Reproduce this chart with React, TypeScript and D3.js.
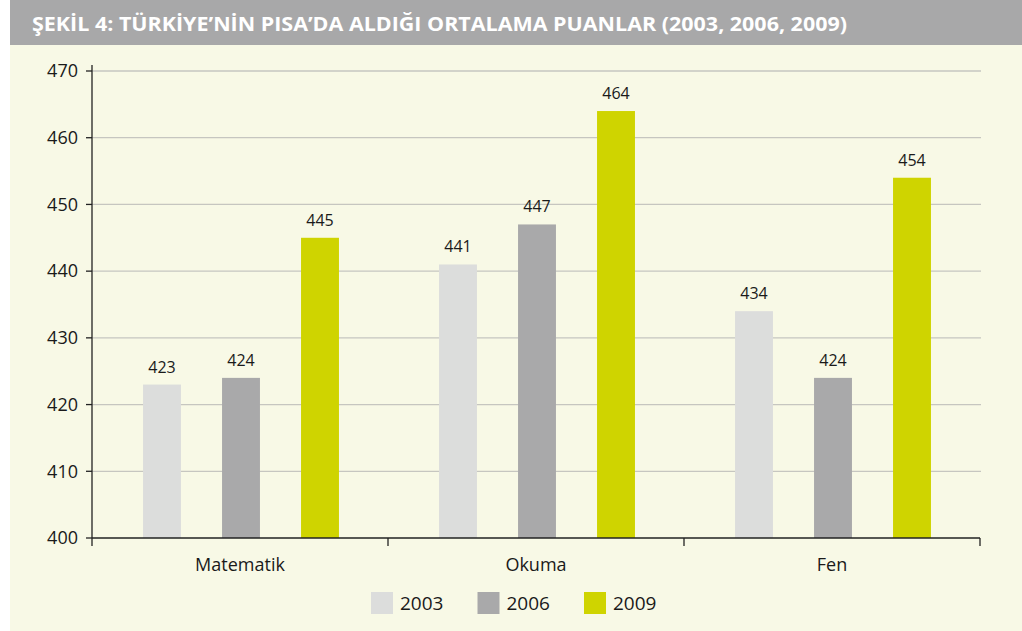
import React from "react";
import * as d3 from "d3";

const WIDTH = 1022;
const HEIGHT = 631;
const MARGIN = { top: 71, right: 42, bottom: 93, left: 92 };

const TITLE = "ŞEKİL 4: TÜRKİYE’NİN PISA’DA ALDIĞI ORTALAMA PUANLAR (2003, 2006, 2009)";
const categories = ["Matematik", "Okuma", "Fen"];
const years = ["2003", "2006", "2009"];
const values2003 = [423, 441, 434];
const values2006 = [424, 447, 424];
const values2009 = [445, 464, 454];
const yTicks = [400, 410, 420, 430, 440, 450, 460, 470];
const COLORS = ["#dcdddc", "#a9a9aa", "#cfd400"];

const FONT = "'Open Sans', 'DejaVu Sans', sans-serif";

export default function App() {
  const boundsWidth = WIDTH - MARGIN.left - MARGIN.right;
  const boundsHeight = HEIGHT - MARGIN.top - MARGIN.bottom;

  const series = [values2003, values2006, values2009];

  const xScale = d3.scaleBand<string>().domain(categories).range([0, boundsWidth]).padding(0);
  const innerScale = d3
    .scaleBand<string>()
    .domain(years)
    .range([30.5, xScale.bandwidth() - 28.5])
    .paddingInner(0.52)
    .paddingOuter(0.26);
  const yScale = d3.scaleLinear().domain([400, 470]).range([boundsHeight, 0]);

  const colorScale = d3.scaleOrdinal<string>().domain(years).range(COLORS);

  // category boundaries for the little ticks on the x axis
  const boundaries = categories.map((c) => xScale(c) as number).concat(boundsWidth);

  return (
    <svg
      width={WIDTH}
      height={HEIGHT}
      style={{ position: "absolute", left: 0, top: 0, fontFamily: FONT }}
    >
      <rect x={10} y={0} width={WIDTH - 10} height={45} fill="#a8a8a9" />
      <rect x={10} y={45} width={WIDTH - 10} height={HEIGHT - 45} fill="#f8f9e6" />
      <text
        x={32}
        y={31}
        fill="#ffffff"
        fontWeight={700}
        fontSize={19}
        textLength={815}
        lengthAdjust="spacingAndGlyphs"
      >
        {TITLE}
      </text>

      <g transform={`translate(${MARGIN.left},${MARGIN.top})`}>
        {/* grid + y labels */}
        {yTicks.map((t) => (
          <g key={t} transform={`translate(0,${yScale(t)})`}>
            {t > 400 && <line x1={0} x2={boundsWidth + 1} stroke="#c6c6c0" strokeWidth={1.3} />}
            <line x1={-6} x2={0} stroke="#222" strokeWidth={1.3} />
            <text x={-14} dy="0.35em" textAnchor="end" fontSize={18} fill="#1a1a1a">
              {t}
            </text>
          </g>
        ))}

        {/* bars */}
        {categories.map((cat, i) => (
          <g key={cat} transform={`translate(${xScale(cat)},0)`}>
            {years.map((yr, j) => {
              const v = series[j][i];
              const x = innerScale(yr) as number;
              return (
                <g key={yr}>
                  <rect
                    x={x}
                    y={yScale(v)}
                    width={innerScale.bandwidth()}
                    height={boundsHeight - yScale(v)}
                    fill={colorScale(yr)}
                  />
                  <text
                    x={x + innerScale.bandwidth() / 2}
                    y={yScale(v) - 12}
                    textAnchor="middle"
                    fontSize={16}
                    fill="#1a1a1a"
                  >
                    {v}
                  </text>
                </g>
              );
            })}
            <text
              x={xScale.bandwidth() / 2}
              y={boundsHeight + 33}
              textAnchor="middle"
              fontSize={18}
              fill="#1a1a1a"
            >
              {cat}
            </text>
          </g>
        ))}

        {/* axes */}
        <line x1={0} x2={0} y1={-6} y2={boundsHeight} stroke="#222" strokeWidth={1.3} />
        <line x1={0} x2={boundsWidth} y1={boundsHeight} y2={boundsHeight} stroke="#222" strokeWidth={1.5} />
        {boundaries.map((b, i) => (
          <line key={i} x1={b} x2={b} y1={boundsHeight} y2={boundsHeight + 8} stroke="#222" strokeWidth={1.3} />
        ))}
      </g>

      {/* legend */}
      <g transform="translate(371,592)">
        {years.map((yr, i) => (
          <g key={yr} transform={`translate(${i * 106.5},0)`}>
            <rect width={22} height={22} fill={colorScale(yr)} />
            <text x={29} y={11} dy="0.36em" fontSize={19} fill="#1a1a1a">
              {yr}
            </text>
          </g>
        ))}
      </g>
    </svg>
  );
}
